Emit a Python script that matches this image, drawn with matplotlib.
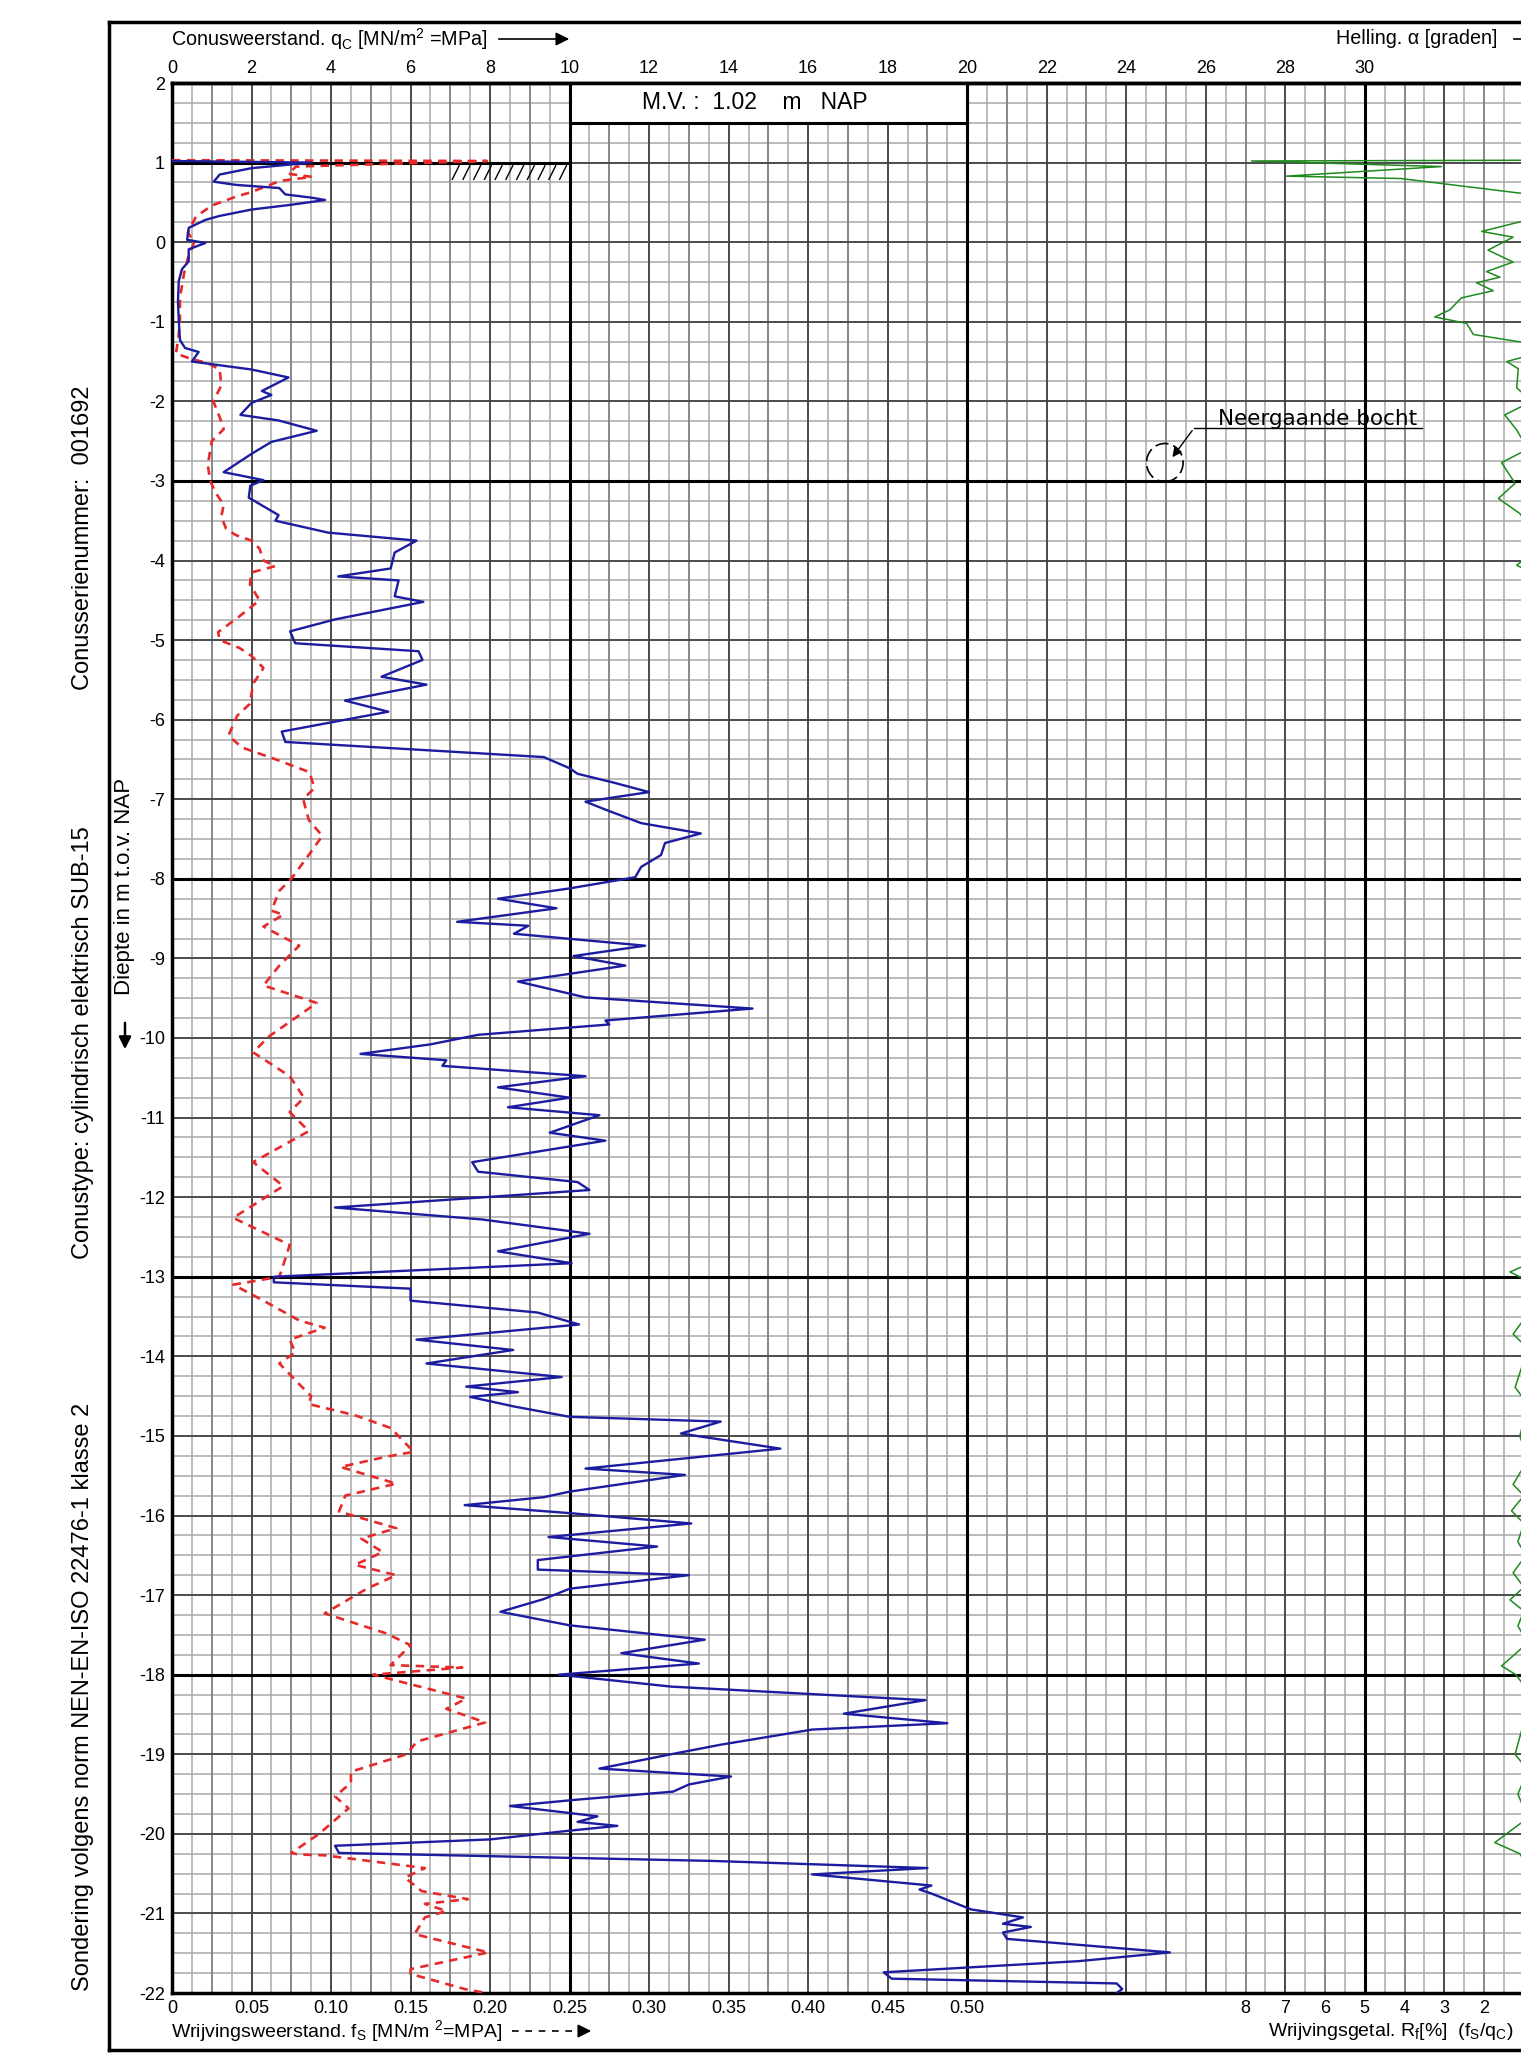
import numpy as np
import matplotlib.pyplot as plt
from matplotlib.lines import Line2D
from matplotlib.patches import Rectangle, Ellipse

plt.rcParams['font.family'] = ['Liberation Sans', 'DejaVu Sans']
plt.rcParams['mathtext.fontset'] = 'custom'
plt.rcParams['mathtext.rm'] = 'Liberation Sans'
plt.rcParams['mathtext.it'] = 'Liberation Sans:italic'

# --- sounding data (depth in m NAP) ---
qc_depth = [
    1.02, 1.00, 0.93, 0.85, 0.76, 0.72, 0.68, 0.60, 0.56, 0.53,
    0.47, 0.41, 0.33, 0.28, 0.18, 0.03, -0.01, -0.09, -0.24, -0.34,
    -0.49, -0.75, -0.98, -1.23, -1.33, -1.38, -1.50, -1.60, -1.70, -1.87,
    -1.92, -2.02, -2.17, -2.24, -2.37, -2.51, -2.66, -2.89, -2.99, -3.06,
    -3.21, -3.43, -3.50, -3.65, -3.75, -3.90, -4.10, -4.20, -4.25, -4.45,
    -4.52, -4.74, -4.89, -5.04, -5.14, -5.25, -5.46, -5.56, -5.76, -5.90,
    -6.15, -6.28,
    -6.47, -6.61, -6.68, -6.79, -6.91, -7.03, -7.13, -7.30, -7.43, -7.55,
    -7.70, -7.85, -7.98, -8.12, -8.25, -8.37, -8.54, -8.59, -8.69, -8.84,
    -8.97, -9.09, -9.29, -9.49, -9.63, -9.78, -9.83, -9.96, -10.08, -10.20,
    -10.28, -10.35, -10.48, -10.62, -10.75, -10.87, -10.97, -11.19, -11.29, -11.56,
    -11.68, -11.81, -11.91, -12.13, -12.28, -12.46, -12.68, -12.83, -13.00, -13.07,
    -13.15, -13.30, -13.45, -13.60, -13.79, -13.92, -14.09, -14.20, -14.26, -14.38,
    -14.45, -14.51, -14.63, -14.76, -14.82, -14.97, -15.16, -15.41, -15.49, -15.70,
    -15.77, -15.87, -15.97, -16.10, -16.27, -16.39, -16.56, -16.68, -16.75, -16.92,
    -17.05, -17.21, -17.38, -17.56, -17.73, -17.86, -18.00, -18.15, -18.32, -18.49,
    -18.61, -18.69, -18.88, -19.00, -19.18, -19.28, -19.38, -19.47, -19.57, -19.65,
    -19.78, -19.85, -19.90, -19.96, -20.07, -20.15, -20.24, -20.34, -20.43, -20.51,
    -20.65, -20.70, -20.75, -20.95, -21.05, -21.13, -21.17, -21.24, -21.32, -21.49,
    -21.60, -21.74, -21.82, -21.88, -21.95, -22.00,
]
qc = [
    0.0, 3.5, 2.0, 1.2, 1.05, 1.6, 2.7, 2.85, 3.5, 3.85,
    3.0, 2.0, 1.2, 0.84, 0.42, 0.38, 0.84, 0.42, 0.42, 0.25,
    0.17, 0.15, 0.17, 0.2, 0.33, 0.67, 0.5, 2.0, 2.93, 2.26,
    2.5, 2.0, 1.72, 2.68, 3.64, 2.5, 2.0, 1.3, 2.3, 1.97,
    1.93, 2.68, 2.6, 3.93, 6.15, 5.6, 5.5, 4.18, 5.7, 5.6,
    6.32, 4.1, 2.97, 3.1, 6.2, 6.3, 5.27, 6.4, 4.35, 5.44,
    2.76, 2.85,
    9.35, 10.0, 10.2, 11.1, 12.0, 10.4, 10.9, 11.8, 13.3, 12.4,
    12.3, 11.8, 11.65, 10.0, 8.2, 9.67, 7.17, 8.96, 8.6, 11.9,
    10.1, 11.4, 8.7, 10.4, 14.6, 10.9, 11.0, 7.7, 6.5, 4.74,
    6.9, 6.8, 10.4, 8.2, 10.0, 8.45, 10.75, 9.5, 10.9, 7.55,
    7.7, 10.2, 10.5, 4.1, 7.8, 10.5, 8.2, 10.05, 2.56, 2.56,
    6.0, 6.0, 9.2, 10.24, 6.15, 8.58, 6.4, 8.6, 9.8, 7.4,
    8.7, 7.5, 8.6, 10.0, 13.8, 12.8, 15.3, 10.4, 12.9, 10.0,
    9.35, 7.36, 10.0, 13.06, 9.47, 12.2, 9.2, 9.2, 13.0, 10.0,
    9.35, 8.26, 10.0, 13.4, 11.3, 13.25, 9.73, 12.55, 18.95, 16.9,
    19.5, 16.1, 13.8, 12.55, 10.75, 14.06, 13.0, 12.6, 10.2, 8.5,
    10.7, 10.2, 11.2, 10.0, 8.0, 4.1, 4.2, 13.56, 19.0, 16.1,
    19.1, 18.8, 19.1, 20.1, 21.4, 20.9, 21.6, 20.9, 21.0, 25.1,
    22.8, 17.9, 18.1, 23.76, 23.9, 23.76,
]

fs_depth = [
    1.03, 1.02, 0.95, 0.86, 0.82, 0.77, 0.63, 0.57, 0.46, 0.32,
    0.12, 0.00, -0.20, -0.40, -0.70, -1.00, -1.20, -1.40, -1.47, -1.52,
    -1.60, -1.80, -2.00, -2.20, -2.35, -2.50, -2.80, -3.00, -3.15, -3.30,
    -3.45, -3.60, -3.68, -3.75, -3.85, -4.00, -4.07, -4.15, -4.30, -4.50,
    -4.70, -4.90, -5.00, -5.10, -5.20, -5.35, -5.55, -5.80, -5.95, -6.20,
    -6.35, -6.49, -6.66, -6.86, -7.00, -7.26, -7.46, -7.70, -8.00, -8.15,
    -8.40, -8.45, -8.60, -8.84, -9.09, -9.34, -9.56, -9.98, -10.18, -10.48,
    -10.75, -10.93, -11.17, -11.56, -11.86, -12.26, -12.60, -12.85, -13.00, -13.10,
    -13.30, -13.55, -13.64, -13.79, -13.95, -14.09, -14.35, -14.50, -14.60, -14.74,
    -14.90, -15.20, -15.26, -15.39, -15.60, -15.75, -15.95, -16.16, -16.29, -16.46,
    -16.62, -16.75, -16.92, -17.23, -17.48, -17.63, -17.88, -17.91, -18.00, -18.30,
    -18.43, -18.60, -18.84, -19.00, -19.22, -19.36, -19.53, -19.68, -20.00, -20.24,
    -20.26, -20.27, -20.43, -20.55, -20.72, -20.82, -20.88, -20.97, -21.05, -21.26,
    -21.49, -21.70, -21.76, -21.95, -22.00,
]
fs = [
    0.0, 0.198, 0.078, 0.073, 0.088, 0.068, 0.050, 0.040, 0.025, 0.015,
    0.010, 0.014, 0.010, 0.0075, 0.005, 0.005, 0.004, 0.0025, 0.0125, 0.0225,
    0.030, 0.031, 0.026, 0.030, 0.0325, 0.025, 0.0225, 0.024, 0.0275, 0.0325,
    0.031, 0.034, 0.040, 0.050, 0.055, 0.0575, 0.065, 0.050, 0.049, 0.055,
    0.0425, 0.029, 0.030, 0.0425, 0.050, 0.0575, 0.051, 0.049, 0.041, 0.0355,
    0.044, 0.064, 0.0865, 0.0895, 0.0825, 0.086, 0.0945, 0.086, 0.075, 0.0675,
    0.0625, 0.070, 0.0575, 0.080, 0.0675, 0.0575, 0.091, 0.061, 0.051, 0.074,
    0.083, 0.074, 0.086, 0.051, 0.070, 0.0385, 0.074, 0.070, 0.0675, 0.0385,
    0.0575, 0.080, 0.096, 0.074, 0.0775, 0.0675, 0.080, 0.0875, 0.086, 0.115,
    0.1375, 0.152, 0.135, 0.106, 0.141, 0.109, 0.105, 0.141, 0.119, 0.1325,
    0.115, 0.141, 0.1225, 0.096, 0.1345, 0.150, 0.1375, 0.1825, 0.1265, 0.185,
    0.1725, 0.197, 0.154, 0.1475, 0.1125, 0.1125, 0.1025, 0.111, 0.0925, 0.075,
    0.080, 0.096, 0.159, 0.1465, 0.157, 0.186, 0.159, 0.1725, 0.159, 0.1525,
    0.199, 0.150, 0.150, 0.184, 0.1975,
]

rf_depth = [
    1.03, 1.02, 0.95, 0.83, 0.80, 0.61, 0.45, 0.30, 0.255, 0.135,
    0.063, -0.10, -0.25, -0.37, -0.44, -0.51, -0.61, -0.70, -0.85, -0.94,
    -1.02, -1.16, -1.26, -1.40, -1.50, -1.59, -1.83, -2.00, -2.17, -2.36,
    -2.60, -2.77, -3.03, -3.22, -3.41, -3.70, -3.95, -4.06, -4.15, -5.00,
    -6.00, -7.00, -8.00, -9.00, -10.00, -11.00, -12.00, -12.80, -12.94, -13.05,
    -13.40, -13.72, -13.90, -14.39, -14.60, -15.00, -15.30, -15.61, -15.75, -15.94,
    -16.10, -16.33, -16.50, -16.72, -16.90, -17.06, -17.20, -17.39, -17.60, -17.89,
    -18.00, -18.20, -18.60, -19.00, -19.20, -19.50, -19.80, -20.11, -20.25, -20.50,
    -21.00, -22.00,
]
rf = [
    0.5, 7.85, 3.07, 6.97, 4.1, 1.0, 0.6, 0.7, 1.1, 2.06,
    1.27, 1.9, 1.27, 1.94, 1.6, 2.19, 1.77, 2.57, 2.86, 3.24,
    2.44, 2.27, 1.0, 0.7, 1.43, 1.14, 1.18, 0.8, 1.48, 1.18,
    0.9, 1.56, 1.22, 1.64, 1.1, 0.7, 0.9, 1.18, 0.8, 0.6,
    0.5, 0.4, 0.5, 0.5, 0.6, 0.5, 0.6, 0.7, 1.35, 0.9,
    0.8, 1.27, 0.9, 1.22, 0.9, 1.1, 0.9, 1.27, 1.0, 1.31,
    1.0, 1.15, 0.95, 1.27, 1.0, 1.35, 1.0, 1.15, 0.9, 1.56,
    1.2, 0.9, 1.0, 1.22, 0.9, 1.15, 0.9, 1.73, 1.1, 0.8,
    0.7, 0.8,
]

depth_ticks = list(range(2, -23, -1))
qc_ticks = list(range(0, 31, 2))
fs_ticks = [0, 0.05, 0.10, 0.15, 0.20, 0.25, 0.30, 0.35, 0.40, 0.45, 0.50]
rf_ticks = [8, 7, 6, 5, 4, 3, 2]
mv_level = 1.02

FS_SCALE = 40    # 0.25 MPa friction = 10 MPa cone resistance
RF_ZERO = 35     # friction ratio axis runs leftwards from here

W, H = 1521, 2058
fig = plt.figure(figsize=(W / 100, H / 100), dpi=100)


def fx(px):
    return px / W


def fy(py):
    return 1 - py / H


ax = fig.add_axes([fx(172), fy(1993), 40 * 39.76 / W, 1910 / H])
ax.set_xlim(0, 40)
ax.set_ylim(-22, 2)

# grid paper
light, mid, dark = '#a8a8a8', '#7c7c7c', '#444444'
ax.vlines(np.arange(0, 40.01, 0.5), -22, 2, color=light, lw=1.1, zorder=1)
ax.hlines(np.arange(-22, 2.01, 0.25), 0, 40, color=light, lw=1.1, zorder=1)
ax.vlines(np.arange(1, 40.01, 2), -22, 2, color=mid, lw=1.1, zorder=1.05)
ax.vlines(np.arange(0, 40.01, 2), -22, 2, color=dark, lw=1.3, zorder=1.1)
ax.hlines(np.arange(-22, 2.01, 1), 0, 40, color=dark, lw=1.3, zorder=1.1)
ax.vlines([10, 20, 30], -22, 2, color='black', lw=2.2, zorder=1.2)
ax.hlines([-3, -8, -13, -18], 0, 40, color='black', lw=2.2, zorder=1.2)
ax.hlines([mv_level - 0.02], 0, 10, color='black', lw=2.2, zorder=1.2)

# M.V. box
ax.add_patch(Rectangle((10, 1.5), 10, 0.5, facecolor='white', edgecolor='black',
                       lw=2.2, zorder=2))
ax.text(14.65, 1.75, f'M.V. :  {mv_level:.2f}    m   NAP', ha='center', va='center',
        fontsize=16.5, zorder=3)

# ground hatching
for hx in np.arange(7.05, 9.9, 0.27):
    ax.plot([hx, hx + 0.17], [0.79, 0.96], color='black', lw=1.0, zorder=2)

# curves
ax.plot(RF_ZERO - np.array(rf), rf_depth, color='#1e8a1e', lw=1.1, zorder=4)
ax.plot(np.array(fs) * FS_SCALE, fs_depth, color='#e62a2a', lw=1.9,
        dashes=(3.2, 2.4), zorder=4)
ax.plot(qc, qc_depth, color='#1c1ca0', lw=1.7, zorder=5)

# "Neergaande bocht" note
ax.text(26.3, -2.30, 'Neergaande bocht', family='DejaVu Sans', fontsize=15.5,
        ha='left', va='baseline', zorder=3)
ax.plot([25.7, 31.43], [-2.34, -2.34], color='black', lw=1.0, zorder=3)
ax.annotate('', xy=(25.12, -2.73), xytext=(25.7, -2.34),
            arrowprops=dict(arrowstyle='-|>', color='black', lw=1.0,
                            mutation_scale=14), zorder=3)
ax.add_patch(Ellipse((24.97, -2.77), 0.92, 0.48, fill=False, edgecolor='black',
                     lw=1.2, linestyle=(0, (8, 3)), zorder=3))

# axes, ticks
for side in ['left', 'top', 'bottom']:
    ax.spines[side].set_linewidth(2.5)
ax.spines['right'].set_visible(False)

ax.set_yticks(depth_ticks)
ax.set_yticklabels([str(d) for d in depth_ticks])
ax.tick_params(axis='y', length=0, pad=5, labelsize=13)

bottom_pos = [v * FS_SCALE for v in fs_ticks] + [RF_ZERO - r for r in rf_ticks]
bottom_lab = ['0'] + [f'{v:.2f}' for v in fs_ticks[1:]] + [str(r) for r in rf_ticks]
ax.set_xticks(bottom_pos)
ax.set_xticklabels(bottom_lab)
ax.tick_params(axis='x', length=0, pad=5, labelsize=13)

top = ax.secondary_xaxis('top')
top.set_xticks(qc_ticks)
top.set_xticklabels([str(t) for t in qc_ticks])
top.tick_params(length=0, pad=4, labelsize=13)
top.spines['top'].set_linewidth(2.5)

# header / footer texts
fig.text(fx(171), fy(39), r'Conusweerstand. q$_\mathregular{C}$ [MN/m$^\mathregular{2}$ =MPa]',
         fontsize=14.2, ha='left', va='center')
ax.annotate('', xy=(572, H - 39), xytext=(496, H - 39), xycoords='figure pixels',
            textcoords='figure pixels',
            arrowprops=dict(arrowstyle='-|>', color='black', lw=1.2, mutation_scale=20))
fig.text(fx(1336), fy(39), 'Helling. α [graden]', fontsize=14.2, ha='left', va='center')
fig.add_artist(Line2D([fx(1514), fx(1530)], [fy(39), fy(39)], color='black', lw=1.2))

fig.text(fx(171), fy(2031),
         r'Wrijvingsweerstand. f$_\mathregular{S}$ [MN/m $^\mathregular{2}$=MPA]',
         fontsize=14, ha='left', va='center')
fig.add_artist(Line2D([fx(512), fx(578)], [fy(2031), fy(2031)], color='black', lw=1.2,
                      dashes=(4, 4)))
ax.annotate('', xy=(594, H - 2031), xytext=(576, H - 2031), xycoords='figure pixels',
            textcoords='figure pixels',
            arrowprops=dict(arrowstyle='-|>', color='black', lw=1.2, mutation_scale=20))
fig.text(fx(1268), fy(2031),
         r'Wrijvingsgetal. R$_\mathregular{f}$[%]  (f$_\mathregular{S}$/q$_\mathregular{C}$)',
         fontsize=14, ha='left', va='center')

# depth axis title with its own downward arrow
fig.text(fx(125), fy(886), 'Diepte in m t.o.v. NAP', rotation=90, fontsize=16,
         ha='center', va='center')
ax.annotate('', xy=(125, H - 1052), xytext=(125, H - 1020), xycoords='figure pixels',
            textcoords='figure pixels',
            arrowprops=dict(arrowstyle='-|>', color='black', lw=1.8, mutation_scale=18))

fig.text(fx(83), fy(538), 'Conusserienummer:  001692', rotation=90, fontsize=17,
         ha='center', va='center')
fig.text(fx(83), fy(1043), 'Conustype: cylindrisch elektrisch SUB-15', rotation=90,
         fontsize=17, ha='center', va='center')
fig.text(fx(83), fy(1697), 'Sondering volgens norm NEN-EN-ISO 22476-1 klasse 2',
         rotation=90, fontsize=17, ha='center', va='center')

# outer frame
frame = dict(color='black', lw=2.5)
fig.add_artist(Line2D([fx(109), fx(109)], [fy(22), fy(2050)], **frame))
fig.add_artist(Line2D([fx(109), 1], [fy(22), fy(22)], **frame))
fig.add_artist(Line2D([fx(109), 1], [fy(2050), fy(2050)], **frame))

fig.savefig('out.png', dpi=100)
